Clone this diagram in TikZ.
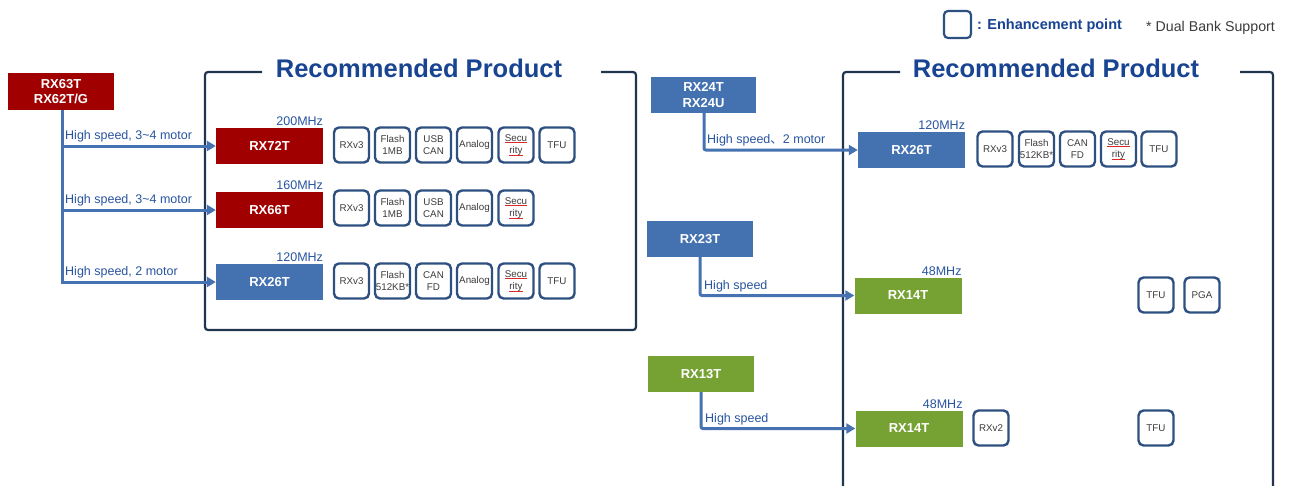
\documentclass[tikz,border=0pt]{standalone}
\usepackage{fontspec}
\setmainfont{Liberation Sans}
\newfontfamily\cjk{Noto Sans CJK SC}
\usetikzlibrary{arrows.meta}
\definecolor{darkred}{RGB}{160,0,0}
\definecolor{boxblue}{RGB}{68,114,176}
\definecolor{boxgreen}{RGB}{118,162,52}
\definecolor{featblue}{RGB}{46,80,128}
\definecolor{framenavy}{RGB}{33,52,80}
\definecolor{titleblue}{RGB}{24,68,145}
\definecolor{lineblue}{RGB}{70,114,178}
\definecolor{lblblue}{RGB}{40,84,160}
\definecolor{txtgray}{RGB}{60,60,60}
\definecolor{spellred}{RGB}{220,40,40}
\newcommand\spellul[1]{\setbox0\hbox{#1}\rlap{\copy0}\textcolor{spellred}{\rule[-1.6pt]{\wd0}{0.6pt}}}
\tikzset{
  chip/.style={minimum width=107pt, minimum height=36pt, inner sep=0pt, text=white, font=\fontsize{13}{15.5}\selectfont\bfseries, align=center},
  redchip/.style={chip, fill=darkred},
  bluechip/.style={chip, fill=boxblue},
  greenchip/.style={chip, fill=boxgreen},
  feat/.style={draw=featblue, line width=2.4pt, rounded corners=5pt, minimum width=35pt, minimum height=35pt, inner sep=0pt, text=txtgray, font=\fontsize{9.8}{12.5}\selectfont, align=center},
  freq/.style={anchor=south east, inner sep=0pt, text=lblblue, font=\fontsize{12.5}{14}\selectfont},
  lbl/.style={anchor=south west, inner sep=1pt, text=lblblue, font=\fontsize{12.5}{14}\selectfont},
  conn/.style={draw=lineblue, line width=3pt, -{Triangle[length=9pt,width=10pt]}},
  frame/.style={draw=framenavy, line width=2.2pt, rounded corners=3pt},
  ttl/.style={text=titleblue, font=\fontsize{25.5}{28}\selectfont\bfseries, inner sep=0pt}
}
\begin{document}
\begin{tikzpicture}[x=1pt,y=-1pt]
\useasboundingbox[fill=white] (0,0) rectangle (1291,485);

% legend
\node[draw=featblue, line width=2.2pt, rounded corners=4pt, minimum width=27pt, minimum height=27pt, inner sep=0pt] (leg) at (957.5,24.5) {};
\node[anchor=west, inner sep=0pt, text=titleblue, font=\fontsize{14.5}{16}\selectfont\bfseries] (legt) at (977,26) {: Enhancement point};
\node[anchor=west, inner sep=0pt, text=txtgray, font=\fontsize{14.2}{16}\selectfont] (dual) at (1146,28) {* Dual Bank Support};

% frames
\draw[frame] (262,72) -- (205,72) -- (205,330) -- (636,330) -- (636,72) -- (601,72);
\node[ttl] (t1) at (419,68) {Recommended Product};
\draw[frame] (900,72) -- (843,72) -- (843,486);
\draw[frame] (1273,486) -- (1273,72) -- (1240,72);
\node[ttl] (t2) at (1056,68) {Recommended Product};

% left source
\node[redchip, minimum width=106pt, minimum height=37pt] (src1) at (61,91.5) {RX63T\\RX62T/G};
\node[redchip] (rx72) at (269.5,146) {RX72T};
\node[redchip] (rx66) at (269.5,210) {RX66T};
\node[bluechip] (rx26a) at (269.5,282) {RX26T};
\node[freq] (f72) at (rx72.north east) [yshift=1.5pt] {200MHz};
\node[freq] (f66) at (rx66.north east) [yshift=1.5pt] {160MHz};
\node[freq] (f26a) at (rx26a.north east) [yshift=1.5pt] {120MHz};

\coordinate (j1) at (62,146);
\coordinate (j2) at (62,210);
\coordinate (j3) at (62,282);
\draw[draw=lineblue, line width=3pt] (src1.south -| j1) -- ([yshift=-1.5pt]j3);
\draw[conn] (j1) -- (rx72.west);
\draw[conn] (j2) -- (rx66.west);
\draw[conn] ([xshift=-1.5pt]j3) -- (rx26a.west);
\node[lbl] (l1) at (64,143) {High speed, 3\textasciitilde4 motor};
\node[lbl] (l2) at (64,207) {High speed, 3\textasciitilde4 motor};
\node[lbl] (l3) at (64,279) {High speed, 2 motor};

% left features
\node[feat] (a1) at (351.5,145) {RXv3};
\node[feat] (a2) at (392.5,145) {Flash\\1MB};
\node[feat] (a3) at (433.5,145) {USB\\CAN};
\node[feat] (a4) at (474.5,145) {Analog};
\node[feat] (a5) at (516,145) {\spellul{Secu}\\\spellul{rity}};
\node[feat] (a6) at (557,145) {TFU};

\node[feat] (b1) at (351.5,208) {RXv3};
\node[feat] (b2) at (392.5,208) {Flash\\1MB};
\node[feat] (b3) at (433.5,208) {USB\\CAN};
\node[feat] (b4) at (474.5,208) {Analog};
\node[feat] (b5) at (516,208) {\spellul{Secu}\\\spellul{rity}};

\node[feat] (c1) at (351.5,281) {RXv3};
\node[feat] (c2) at (392.5,281) {Flash\\512KB*};
\node[feat] (c3) at (433.5,281) {CAN\\FD};
\node[feat] (c4) at (474.5,281) {Analog};
\node[feat] (c5) at (516,281) {\spellul{Secu}\\\spellul{rity}};
\node[feat] (c6) at (557,281) {TFU};

% right sources
\node[bluechip, minimum width=105pt] (src2) at (703.5,95) {RX24T\\RX24U};
\node[bluechip, minimum width=106pt] (src3) at (700,239) {RX23T};
\node[greenchip, minimum width=106pt] (src4) at (701,374) {RX13T};

\node[bluechip] (rx26b) at (911.5,150) {RX26T};
\node[greenchip] (rx14a) at (908,295.5) {RX14T};
\node[greenchip] (rx14b) at (909,428.5) {RX14T};
\node[freq] (f26b) at (rx26b.north east) [yshift=1.5pt] {120MHz};
\node[freq] (f14a) at (rx14a.north east) [yshift=1.5pt] {48MHz};
\node[freq] (f14b) at (rx14b.north east) [yshift=1.5pt] {48MHz};

\draw[conn, rounded corners=2pt] (704,113) |- (rx26b.west);
\draw[conn, rounded corners=2pt] (700,257) |- (rx14a.west);
\draw[conn, rounded corners=2pt] (701,392) |- (rx14b.west);
\node[lbl] (l4) at (706,147) {High speed{\cjk 、}2 motor};
\node[lbl] (l5) at (703,293) {High speed};
\node[lbl] (l6) at (704,426) {High speed};

% right features
\node[feat] (d1) at (995,149) {RXv3};
\node[feat] (d2) at (1036.5,149) {Flash\\512KB*};
\node[feat] (d3) at (1077.5,149) {CAN\\FD};
\node[feat] (d4) at (1118.5,149) {\spellul{Secu}\\\spellul{rity}};
\node[feat] (d5) at (1159,149) {TFU};

\node[feat] (e1) at (1156,295) {TFU};
\node[feat] (e2) at (1202,295) {PGA};

\node[feat] (g1) at (991,428) {RXv2};
\node[feat] (g2) at (1156,428) {TFU};
\end{tikzpicture}
\end{document}
